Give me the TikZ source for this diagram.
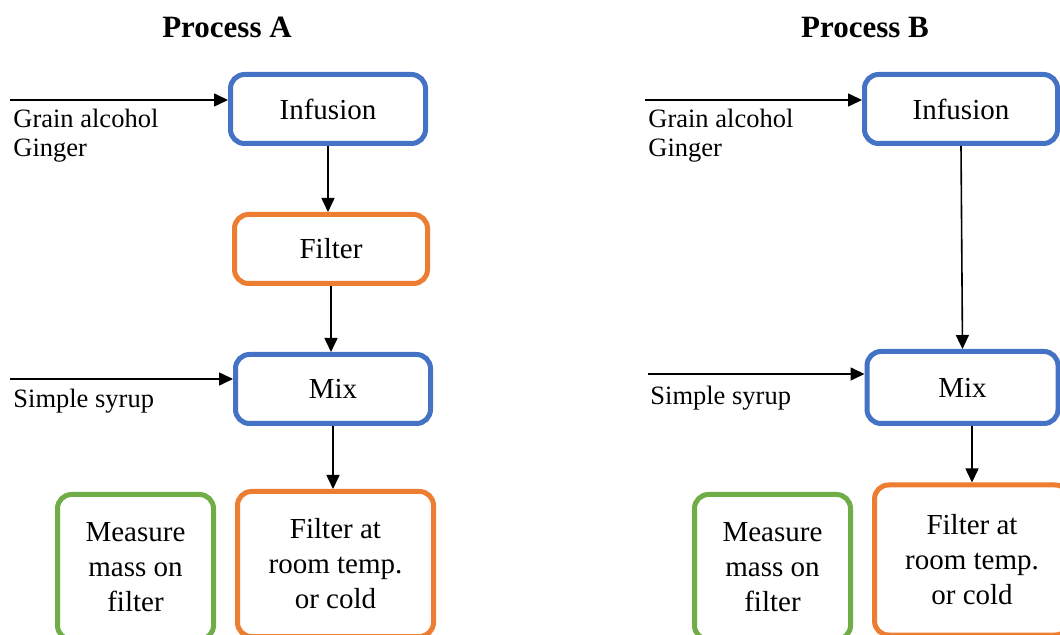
\documentclass[tikz,border=0pt]{standalone}
\usepackage{fontspec}
\setmainfont{Liberation Serif}
\usetikzlibrary{positioning,arrows.meta}
\definecolor{StepBlue}{RGB}{68,114,196}
\definecolor{StepOrange}{RGB}{237,125,49}
\definecolor{StepGreen}{RGB}{112,173,71}

\begin{document}
\begin{tikzpicture}[
	x=0.5pt, y=-0.5pt,
	stepbox/.style={
		draw=#1,
		fill=white,
		line width=2.5pt,
		rounded corners=7pt,
		align=center,
		inner sep=0pt,
		font=\fontsize{14.5}{17.5}\selectfont
	},
	feed/.style={
		-{Triangle[length=7pt,width=6.5pt]},
		line width=0.8pt
	},
	inlabel/.style={
		align=left,
		inner sep=0pt,
		font=\fontsize{13.25}{14.5}\selectfont
	},
	proctitle/.style={
		inner sep=0pt,
		font=\bfseries\fontsize{15.5}{18}\selectfont
	}
	]
	
	\useasboundingbox (0,0) rectangle (1060,635);
	
	% Process A
	\node[proctitle, anchor=base] (tA) at (227,38) {Process A};
	
	\node[
	stepbox=StepBlue,
	minimum width=97.5pt,
	minimum height=34.5pt
	]
	(infA) at (328,109)
	{Infusion};
	
	\node[
	stepbox=StepOrange,
	minimum width=96.5pt,
	minimum height=34.5pt
	]
	(filA) at (331,249)
	{Filter};
	
	\node[
	stepbox=StepBlue,
	minimum width=97.5pt,
	minimum height=34.5pt
	]
	(mixA) at (333,389)
	{Mix};
	
	\node[
	stepbox=StepOrange,
	minimum width=98pt,
	minimum height=72.5pt
	]
	(endA) at (335.5,564)
	{Filter at\\room temp.\\or cold};
	
	\node[
	stepbox=StepGreen,
	minimum width=78pt,
	minimum height=72.5pt
	]
	(masA) at (135.5,567)
	{Measure\\mass on\\filter};
	
	\coordinate (gA) at (10,100);
	\coordinate (sA) at (10,379);
	\node[inlabel, anchor=north west] (gAl) at (13,109) {Grain alcohol\\Ginger};
	\node[inlabel, anchor=base west] (sAl) at (13,408) {Simple syrup};
	
	\draw[feed] (gA) -- (gA -| infA.west);
	\draw[feed] (sA) -- (sA -| mixA.west);
	\draw[feed] (infA.south) -- (infA.south |- filA.north);
	\draw[feed] (filA.south) -- (filA.south |- mixA.north);
	\draw[feed] (mixA.south) -- (mixA.south |- endA.north);
	
	% Process B
	\node[proctitle, anchor=base] (tB) at (865,38) {Process B};
	
	\node[
	stepbox=StepBlue,
	minimum width=96.5pt,
	minimum height=34.5pt
	]
	(infB) at (961,109)
	{Infusion};
	
	\node[
	stepbox=StepBlue,
	minimum width=95.5pt,
	minimum height=36pt
	]
	(mixB) at (962.5,387.5)
	{Mix};
	
	\node[
	stepbox=StepOrange,
	minimum width=97.5pt,
	minimum height=75pt
	]
	(endB) at (972,560)
	{Filter at\\room temp.\\or cold};
	
	\node[
	stepbox=StepGreen,
	minimum width=78pt,
	minimum height=72.5pt
	]
	(masB) at (772.5,567)
	{Measure\\mass on\\filter};
	
	\coordinate (gB) at (645,100);
	\coordinate (sB) at (648,374);
	\node[inlabel, anchor=north west] (gBl) at (648,109) {Grain alcohol\\Ginger};
	\node[inlabel, anchor=base west] (sBl) at (650,405) {Simple syrup};
	
	\draw[feed] (gB) -- (gB -| infB.west);
	\draw[feed] (sB) -- (sB -| mixB.west);
	\draw[feed] (infB.south) -- (mixB.north);
	\draw[feed] (mixB.south -| endB.north) -- (endB.north);
	
\end{tikzpicture}
\end{document}
